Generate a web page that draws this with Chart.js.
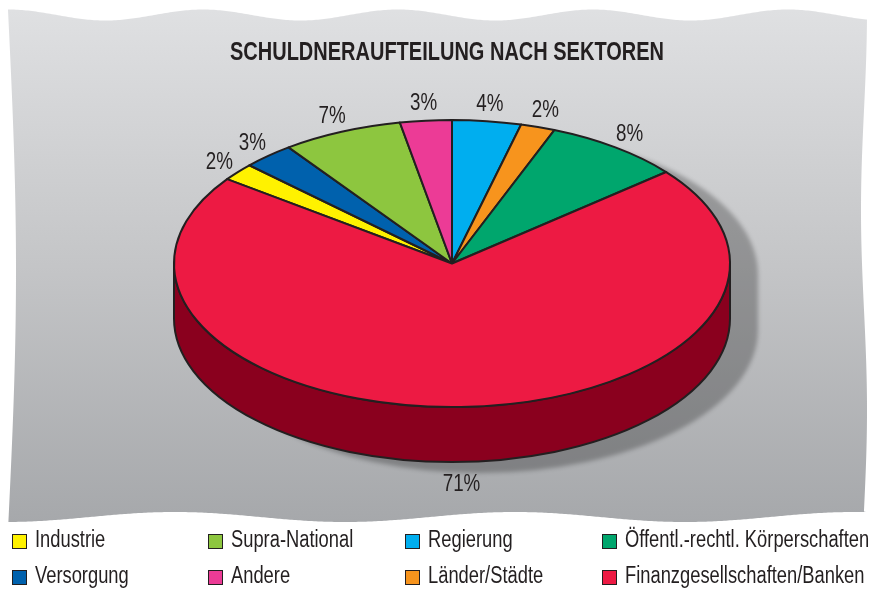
<!DOCTYPE html>
<html><head><meta charset="utf-8">
<script src="https://cdn.jsdelivr.net/npm/chart.js@4.4.1/dist/chart.umd.min.js"></script>
<style>html,body{margin:0;padding:0;background:#fff;overflow:hidden}canvas{display:block}</style>
</head><body>
<canvas id="c" width="874" height="589"></canvas>
<script>
// ---- data ----
const categories = ['Industrie', 'Versorgung', 'Supra-National', 'Andere', 'Regierung', 'Länder/Städte', 'Öffentl.-rechtl. Körperschaften', 'Finanzgesellschaften/Banken'];
const shares = [2, 3, 7, 3, 4, 2, 8, 71];
const valueLabels = ['2%', '3%', '7%', '3%', '4%', '2%', '8%', '71%'];
const topColors = ['#fff200', '#0061ad', '#8dc63f', '#ec3b96', '#00aeef', '#f7941d', '#00a66d', '#ed1a43'];
const sideColors = ['#8a8300', '#00305a', '#4a6d1e', '#82174c', '#005a7e', '#8a4d08', '#00583a', '#8a001e'];
const titleText = 'SCHULDNERAUFTEILUNG NACH SEKTOREN';

// ---- layout / style ----
const PIE = { cx: 452, cy: 263.5, rx: 278, ry: 143.5, depth: 55 };
const INK = '#231f20';
const FONT = '"Liberation Sans", Arial, sans-serif';

function condensedText(ctx, text, x, y, size, weight, squeeze, align) {
  ctx.save();
  ctx.font = weight + ' ' + size + 'px ' + FONT;
  ctx.textBaseline = 'middle';
  ctx.textAlign = 'left';
  ctx.fillStyle = INK;
  const w = ctx.measureText(text).width * squeeze;
  const left = align === 'center' ? x - w / 2 : x;
  ctx.translate(left, y);
  ctx.scale(squeeze, 1);
  ctx.fillText(text, 0, 0);
  ctx.restore();
}

function paperPath(ctx) {
  const T = x => 15 - 5.5 * Math.cos(2 * Math.PI * (x - 8) / 195);
  const B = x => 517 + 5 * Math.cos(2 * Math.PI * (x - 5) / 340);
  const L = y => 8 + 8 * Math.sin(Math.PI * (y - 10) / 520);
  const R = y => 864 + 3 * Math.cos(2 * Math.PI * (y - 10) / 400);
  ctx.beginPath();
  ctx.moveTo(8, T(8));
  for (let x = 10; x <= 866; x += 2) ctx.lineTo(x, T(x));
  for (let y = T(866); y <= B(866); y += 2) ctx.lineTo(R(y), y);
  for (let x = 866; x >= 8; x -= 2) ctx.lineTo(x, B(x));
  for (let y = B(8); y >= T(8); y -= 2) ctx.lineTo(L(y), y);
  ctx.closePath();
}

function frontSegments(s, e) {
  const segs = [];
  for (let k = -2; k <= 2; k++) {
    const lo = 2 * Math.PI * k, hi = lo + Math.PI;
    const a1 = Math.max(s, lo), a2 = Math.min(e, hi);
    if (a2 > a1) segs.push([a1, a2]);
  }
  return segs;
}

const pie3d = {
  id: 'pie3d',
  beforeDraw(chart) {
    const ctx = chart.ctx;
    ctx.save();
    paperPath(ctx);
    const g = ctx.createLinearGradient(0, 10, 0, 522);
    g.addColorStop(0, '#dfe0e2');
    g.addColorStop(0.5, '#c4c5c7');
    g.addColorStop(1, '#a6a8ab');
    ctx.fillStyle = g;
    ctx.fill();
    ctx.restore();
    condensedText(ctx, titleText, 447, 53, 25, 'bold', 0.8, 'center');
  },
  beforeDatasetsDraw(chart) {
    const ctx = chart.ctx;
    const arcs = chart.getDatasetMeta(0).data;
    const { cx, cy, rx, ry, depth } = PIE;
    // drop shadow of the whole disc
    ctx.save();
    ctx.beginPath();
    ctx.ellipse(cx, cy, rx, ry, 0, Math.PI, 2 * Math.PI);
    ctx.ellipse(cx, cy + depth, rx, ry, 0, 0, Math.PI);
    ctx.closePath();
    ctx.shadowColor = 'rgba(0,0,0,0.26)';
    ctx.shadowOffsetX = 28;
    ctx.shadowOffsetY = 11;
    ctx.shadowBlur = 4;
    ctx.fillStyle = sideColors[sideColors.length - 1];
    ctx.fill();
    ctx.restore();
    // side walls
    ctx.save();
    ctx.lineWidth = 2;
    ctx.strokeStyle = INK;
    ctx.lineJoin = 'round';
    arcs.forEach((arc, i) => {
      frontSegments(arc.startAngle, arc.endAngle).forEach(([a1, a2]) => {
        ctx.beginPath();
        ctx.ellipse(cx, cy, rx, ry, 0, a1, a2, false);
        ctx.ellipse(cx, cy + depth, rx, ry, 0, a2, a1, true);
        ctx.closePath();
        ctx.fillStyle = sideColors[i];
        ctx.fill();
        ctx.stroke();
      });
    });
    ctx.restore();
    // squash the library's circular pie into the top ellipse
    const a0 = arcs[0];
    const sx = rx / a0.outerRadius, sy = ry / a0.outerRadius;
    ctx.save();
    ctx.setTransform(sx, 0, 0, sy, cx - a0.x * sx, cy - a0.y * sy);
    ctx.stroke = function () {
      this.save();
      this.setTransform(1, 0, 0, 1, 0, 0);
      CanvasRenderingContext2D.prototype.stroke.apply(this, arguments);
      this.restore();
    };
  },
  afterDatasetsDraw(chart) {
    const ctx = chart.ctx;
    delete ctx.stroke;
    ctx.restore();
    const { cx, cy, rx, ry, depth } = PIE;
    const arcs = chart.getDatasetMeta(0).data;
    arcs.forEach((arc, i) => {
      const m = (arc.startAngle + arc.endAngle) / 2;
      const c = Math.cos(m), s = Math.sin(m);
      const px = cx + rx * c;
      const py = cy + ry * s + (s > 0 ? depth : 0);
      condensedText(ctx, valueLabels[i], px + 24 * c, py + 20 * s + 3, 23.5, 'normal', 0.8, 'center');
    });
    // legend
    const colX = [12, 208, 405, 602];
    const rowY = [541, 577];
    categories.forEach((name, i) => {
      const x = colX[Math.floor(i / 2)], y = rowY[i % 2];
      ctx.save();
      ctx.fillStyle = topColors[i];
      ctx.fillRect(x, y - 7, 15, 15);
      ctx.strokeStyle = INK;
      ctx.lineWidth = 1;
      ctx.strokeRect(x + 0.5, y - 6.5, 14, 14);
      ctx.restore();
      condensedText(ctx, name, x + 23, y, 23.5, 'normal', 0.78, 'left');
    });
  }
};

new Chart(document.getElementById('c'), {
  type: 'pie',
  data: {
    labels: categories,
    datasets: [{
      data: shares,
      backgroundColor: topColors,
      borderColor: INK,
      borderWidth: 2,
      borderJoinStyle: 'round',
      hoverOffset: 0,
      clip: false
    }]
  },
  options: {
    responsive: false,
    animation: false,
    devicePixelRatio: 1,
    rotation: -54,
    events: [],
    layout: { padding: { left: 159, right: 159, top: 16, bottom: 17 } },
    plugins: { legend: { display: false }, tooltip: { enabled: false }, title: { display: false } }
  },
  plugins: [pie3d]
});
</script>
</body></html>
